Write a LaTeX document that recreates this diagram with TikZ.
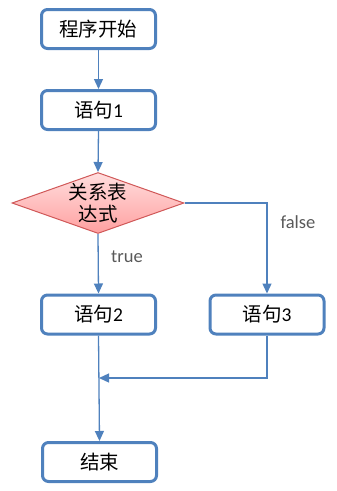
\documentclass[tikz,border=0pt]{standalone}
\usepackage{fontspec}
\setmainfont{Carlito}
\newfontfamily\cjk{Noto Sans CJK SC}
\usetikzlibrary{shapes.geometric,arrows.meta}
\definecolor{boxblue}{RGB}{79,129,189}
\definecolor{lineblue}{RGB}{79,129,189}
\definecolor{diaborder}{RGB}{208,88,88}
\definecolor{diatop}{RGB}{255,222,222}
\definecolor{diabot}{RGB}{255,160,160}
\definecolor{lblgray}{RGB}{89,89,89}
\begin{document}
\begin{tikzpicture}[x=1pt,y=-1pt,
  stepbox/.style={draw=boxblue,line width=3pt,rounded corners=6pt,fill=white,
    minimum width=114pt,minimum height=39pt,inner sep=0pt,
    font=\fontsize{19.5}{22}\selectfont},
  dia/.style={shape=diamond,draw=diaborder,line width=1pt,top color=diatop,bottom color=diabot,
    minimum width=172pt,minimum height=61pt,inner sep=0pt},
  arr/.style={draw=lineblue,line width=1.3pt,-{Triangle[width=9pt,length=10pt]}},
  lbl/.style={text=lblgray,font=\fontsize{18.5}{20}\selectfont}]
\useasboundingbox (0,0) rectangle (337,491);
\node[stepbox] (b1) at (98.5,29) {\cjk 程序开始};
\node[stepbox] (b2) at (98.5,110) {{\cjk 语句}1};
\node[dia] (d) at (98,203) {};
\node[align=center,font=\fontsize{19.5}{22}\selectfont] (dt) at (d) {\cjk 关系表\\\cjk 达式};
\node[stepbox] (b4) at (98.5,314.5) {{\cjk 语句}2};
\node[stepbox] (b3) at (267,314.5) {{\cjk 语句}3};
\node[stepbox] (b5) at (99.5,462) {\cjk 结束};
\coordinate (j) at (99,378);
\draw[arr] (b1.south) -- (b2.north);
\draw[arr] (b2.south) -- (d.north);
\draw[arr] (d.south) -- (b4.north);
\draw[arr] (d.east) -| (b3.north);
\draw[arr] (b4.south) -- (b5.north);
\draw[arr] (b3.south) |- (j);
\node[lbl] (tl) at (127,257) {true};
\node[lbl] (fl) at (298,222) {false};
\end{tikzpicture}
\end{document}
